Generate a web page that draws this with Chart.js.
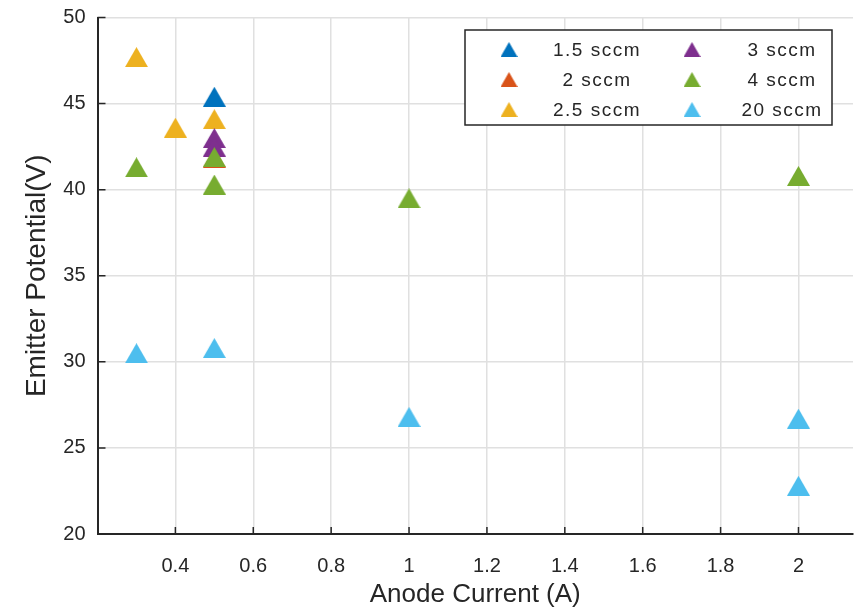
<!DOCTYPE html>
<html>
<head>
<meta charset="utf-8">
<title>Emitter Potential vs Anode Current</title>
<script src="https://cdn.jsdelivr.net/npm/chart.js@4.4.1/dist/chart.umd.min.js"></script>
<style>
  html, body { margin: 0; padding: 0; background: #fff; }
  #chart { display: block; }
</style>
</head>
<body>
<canvas id="chart" width="856" height="610"></canvas>
<script>
// series names (gas flow)
const seriesLabels = ['1.5 sccm', '2 sccm', '2.5 sccm', '3 sccm', '4 sccm', '20 sccm'];
const seriesColors = ['#0072BD', '#D95319', '#EDB120', '#7E2F8E', '#77AC30', '#4DBEEE'];

// anode current (A) per series
const current15 = [0.5];
const current2 = [0.5];
const current25 = [0.3, 0.4, 0.5];
const current3 = [0.5, 0.5];
const current4 = [0.3, 0.5, 0.5, 1, 2];
const current20 = [0.3, 0.5, 1, 2, 2];

// emitter potential (V) per series
const potential15 = [45.4];
const potential2 = [41.85];
const potential25 = [47.7, 43.6, 44.1];
const potential3 = [43.0, 42.5];
const potential4 = [41.3, 41.9, 40.3, 39.5, 40.8];
const potential20 = [30.5, 30.8, 26.8, 26.7, 22.8];

// axis ticks
const xTicks = [0.4, 0.6, 0.8, 1, 1.2, 1.4, 1.6, 1.8, 2];
const yTicks = [20, 25, 30, 35, 40, 45, 50];

const textColor = '#262626';
const fontFamily = "'Liberation Sans', Arial, Helvetica, sans-serif";

const currents = [current15, current2, current25, current3, current4, current20];
const potentials = [potential15, potential2, potential25, potential3, potential4, potential20];

// triangle marker drawn on a small canvas so it is centred on the point like matlab's '^'
function makeTriangle(color, w, h) {
  const c = document.createElement('canvas');
  c.width = w;
  c.height = h;
  const g = c.getContext('2d');
  g.fillStyle = color;
  g.beginPath();
  g.moveTo(w / 2, 0);
  g.lineTo(w, h);
  g.lineTo(0, h);
  g.closePath();
  g.fill();
  return c;
}

const datasets = seriesLabels.map((label, i) => ({
  label: label,
  data: currents[i].map((x, j) => ({ x: x, y: potentials[i][j] })),
  pointStyle: makeTriangle(seriesColors[i], 23, 20),
  pointRadius: 12,
  backgroundColor: seriesColors[i],
  borderColor: seriesColors[i],
  showLine: false,
  order: seriesLabels.length - i // later series on top, as in matlab
}));

// inward tick marks like matlab
const innerTicks = {
  id: 'innerTicks',
  afterDraw(chart) {
    const { ctx, chartArea } = chart;
    const xs = chart.scales.x, ys = chart.scales.y;
    ctx.save();
    ctx.strokeStyle = textColor;
    ctx.lineWidth = 1.5;
    ctx.beginPath();
    xTicks.forEach(v => {
      const px = xs.getPixelForValue(v);
      ctx.moveTo(px, chartArea.bottom);
      ctx.lineTo(px, chartArea.bottom - 7);
    });
    yTicks.forEach(v => {
      const py = ys.getPixelForValue(v);
      ctx.moveTo(chartArea.left, py);
      ctx.lineTo(chartArea.left + 8, py);
    });
    ctx.stroke();
    ctx.restore();
  }
};

// boxed legend, 2 columns filled top to bottom
const boxLegend = {
  id: 'boxLegend',
  afterDraw(chart) {
    const { ctx, chartArea } = chart;
    const bx = chartArea.right - 388, by = chartArea.top + 12.5;
    const bw = 367, bh = 95;
    ctx.save();
    ctx.fillStyle = '#fff';
    ctx.fillRect(bx, by, bw, bh);
    ctx.strokeStyle = textColor;
    ctx.lineWidth = 1.5;
    ctx.strokeRect(bx, by, bw, bh);
    ctx.font = '19px ' + fontFamily;
    ctx.fillStyle = textColor;
    ctx.textAlign = 'center';
    ctx.textBaseline = 'middle';
    if ('letterSpacing' in ctx) ctx.letterSpacing = '1.5px';
    chart.data.datasets.forEach((ds, i) => {
      const col = Math.floor(i / 3), row = i % 3;
      const rowY = by + 20 + row * 30;
      const markX = bx + 44 + col * 183;
      const textX = bx + 132 + col * 185;
      const tri = makeTriangle(seriesColors[i], 17, 15);
      ctx.drawImage(tri, markX - 8.5, rowY - 8);
      ctx.fillText(ds.label, textX, rowY + 1);
    });
    ctx.restore();
  }
};

new Chart(document.getElementById('chart'), {
  type: 'scatter',
  data: { datasets: datasets },
  options: {
    responsive: false,
    animation: false,
    layout: { autoPadding: false, padding: { top: 17.5, right: 3, left: 0, bottom: 0 } },
    plugins: {
      legend: { display: false },
      tooltip: { enabled: false }
    },
    scales: {
      x: {
        type: 'linear',
        min: 0.2,
        max: 2.14,
        afterBuildTicks: (scale) => { scale.ticks = xTicks.map(v => ({ value: v })); },
        afterFit: (scale) => {
          scale.height = 76;
          scale.paddingLeft = 0;
          scale.paddingRight = 0;
        },
        grid: { color: '#e0e0e0', lineWidth: 1.5, drawTicks: false },
        border: { color: textColor, width: 2 },
        ticks: {
          color: textColor,
          font: { family: fontFamily, size: 20 },
          padding: 20,
          maxRotation: 0,
          callback: (v) => String(v)
        },
        title: {
          display: true,
          text: 'Anode Current (A)',
          color: textColor,
          font: { family: fontFamily, size: 26 },
          padding: { top: 0, bottom: 0 }
        }
      },
      y: {
        min: 20,
        max: 50,
        afterBuildTicks: (scale) => { scale.ticks = yTicks.map(v => ({ value: v })); },
        afterFit: (scale) => {
          scale.width = 97.5;
          scale.paddingTop = 0;
          scale.paddingBottom = 0;
        },
        grid: { color: '#e0e0e0', lineWidth: 1.5, drawTicks: false },
        border: { color: textColor, width: 2 },
        ticks: {
          color: textColor,
          font: { family: fontFamily, size: 20 },
          padding: 12
        },
        title: {
          display: true,
          text: 'Emitter Potential(V)',
          color: textColor,
          font: { family: fontFamily, size: 28 },
          padding: { top: 20, bottom: 0 }
        }
      }
    }
  },
  plugins: [innerTicks, boxLegend]
});
</script>
</body>
</html>
